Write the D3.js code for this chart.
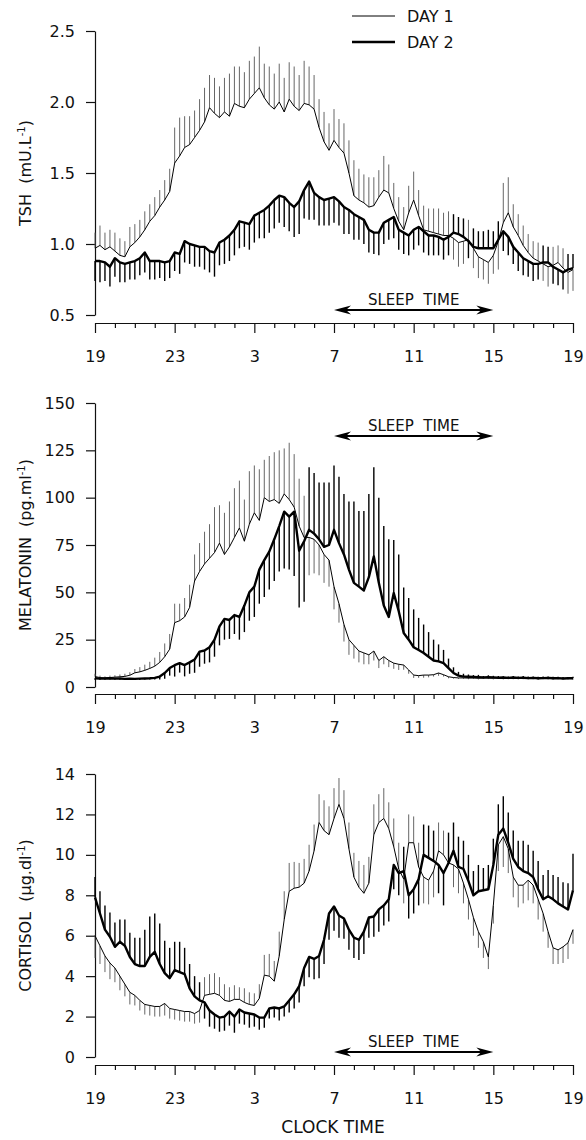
<!DOCTYPE html>
<html lang="en">
<head>
<meta charset="utf-8">
<title>TSH, melatonin and cortisol over two days</title>
<script src="https://cdn.jsdelivr.net/npm/d3@7"></script>
<style>
  body { margin: 0; background: #fff; }
  svg text { font-family: "DejaVu Sans", sans-serif; fill: #111; }
</style>
</head>
<body>
<script>

// samples every 15 min, from 19:00 to 19:00 next day (97 points)
var startHour = 19;
var stepHours = 0.25;
var hourTicks = d3.range(19, 44);
var majorTickLabels = ["19", "23", "3", "7", "11", "15", "19"];

// TSH (mU.L-1)
var tshDay1 = [
  0.97, 0.99, 0.96, 0.98, 0.95, 0.92, 0.91, 0.98,
  1.01, 1.05, 1.10, 1.16, 1.20, 1.26, 1.31, 1.37,
  1.57, 1.62, 1.68, 1.70, 1.75, 1.80, 1.86, 1.96,
  1.92, 1.89, 1.93, 1.90, 1.99, 1.97, 1.96, 2.02,
  2.06, 2.10, 2.03, 1.98, 1.95, 2.00, 1.93, 2.02,
  1.97, 1.94, 1.99, 1.98, 1.95, 1.82, 1.72, 1.66,
  1.73, 1.68, 1.64, 1.50, 1.34, 1.31, 1.29, 1.26,
  1.27, 1.33, 1.38, 1.36, 1.25, 1.16, 1.10, 1.22,
  1.31, 1.20, 1.10, 1.09, 1.08, 1.07, 1.06, 1.06,
  1.04, 1.01, 1.02, 1.03, 0.97, 0.91, 0.89, 0.87,
  0.92, 1.02, 1.15, 1.22, 1.12, 1.06, 0.99, 0.94,
  0.90, 0.88, 0.86, 0.84, 0.85, 0.87, 0.83, 0.80,
  0.82
];
var tshDay1Sem = [
  0.11, 0.14, 0.12, 0.12, 0.13, 0.12, 0.11, 0.14,
  0.13, 0.12, 0.13, 0.12, 0.13, 0.12, 0.14, 0.16,
  0.25, 0.27, 0.22, 0.20, 0.19, 0.22, 0.24, 0.23,
  0.25, 0.22, 0.24, 0.30, 0.26, 0.28, 0.25, 0.27,
  0.26, 0.29, 0.24, 0.27, 0.25, 0.27, 0.24, 0.26,
  0.28, 0.25, 0.30, 0.27, 0.24, 0.20, 0.21, 0.19,
  0.22, 0.20, 0.21, 0.23, 0.25, 0.22, 0.20, 0.21,
  0.20, 0.19, 0.24, 0.20, 0.18, 0.17, 0.16, 0.19,
  0.20, 0.18, 0.17, 0.16, 0.17, 0.18, 0.16, 0.17,
  0.15, 0.17, 0.16, 0.14, 0.14, 0.15, 0.14, 0.15,
  0.13, 0.20, 0.28, 0.25, 0.16, 0.15, 0.14, 0.13,
  0.12, 0.13, 0.12, 0.14, 0.13, 0.12, 0.14, 0.15,
  0.15
];
var tshDay2 = [
  0.88, 0.88, 0.87, 0.84, 0.90, 0.87, 0.86, 0.87,
  0.88, 0.90, 0.94, 0.88, 0.88, 0.88, 0.87, 0.88,
  0.94, 0.93, 1.02, 1.00, 0.99, 0.98, 0.98, 0.95,
  0.94, 1.01, 1.03, 1.06, 1.10, 1.16, 1.15, 1.14,
  1.20, 1.22, 1.24, 1.27, 1.31, 1.34, 1.33, 1.29,
  1.26, 1.30, 1.38, 1.44, 1.36, 1.33, 1.31, 1.32,
  1.33, 1.30, 1.26, 1.24, 1.21, 1.19, 1.17, 1.10,
  1.08, 1.08, 1.15, 1.17, 1.19, 1.10, 1.08, 1.06,
  1.10, 1.12, 1.09, 1.06, 1.06, 1.05, 1.03, 1.05,
  1.08, 1.07, 1.05, 1.02, 0.98, 0.97, 0.97, 0.97,
  0.97, 1.03, 1.09, 1.05, 0.98, 0.94, 0.90, 0.88,
  0.86, 0.86, 0.87, 0.87, 0.84, 0.82, 0.80, 0.82,
  0.83
];
var tshDay2Sem = [
  0.14, 0.15, 0.13, 0.14, 0.13, 0.14, 0.13, 0.12,
  0.13, 0.12, 0.14, 0.13, 0.13, 0.12, 0.13, 0.12,
  0.13, 0.14, 0.15, 0.14, 0.15, 0.14, 0.16, 0.15,
  0.17, 0.16, 0.17, 0.18, 0.18, 0.19, 0.17, 0.18,
  0.19, 0.18, 0.20, 0.19, 0.20, 0.19, 0.21, 0.20,
  0.21, 0.23, 0.20, 0.27, 0.19, 0.20, 0.18, 0.19,
  0.18, 0.17, 0.19, 0.17, 0.18, 0.16, 0.17, 0.16,
  0.15, 0.16, 0.15, 0.14, 0.15, 0.14, 0.15, 0.14,
  0.14, 0.13, 0.15, 0.14, 0.14, 0.13, 0.14, 0.13,
  0.13, 0.12, 0.13, 0.12, 0.13, 0.12, 0.12, 0.13,
  0.12, 0.13, 0.14, 0.13, 0.12, 0.13, 0.12, 0.11,
  0.12, 0.11, 0.12, 0.11, 0.12, 0.11, 0.12, 0.11,
  0.10
];

// Melatonin (pg.ml-1)
var melDay1 = [
  5.5, 5.0, 4.8, 5.0, 5.2, 5.4, 5.6, 6.2,
  7.5, 8.0, 8.8, 9.8, 11, 13, 16, 20,
  34, 35, 37, 42, 56, 61, 65, 68,
  71, 76, 70, 74, 79, 84, 77, 86,
  92, 88, 100, 98, 99, 97, 102, 99,
  95, 85, 79, 79, 78, 75, 70, 67,
  53, 44, 33, 25, 22, 19, 18, 17,
  19, 14, 16, 14, 12.6, 12, 11.6, 9,
  6.3, 6.0, 6.3, 6.3, 6.5, 7.4, 6.5, 5.4,
  5.0, 4.8, 4.8, 4.7, 4.8, 4.6, 4.8, 4.7,
  4.6, 4.8, 4.5, 4.7, 4.6, 4.5, 4.7, 4.5,
  4.6, 4.4, 4.6, 4.5, 4.4, 4.6, 4.4, 4.5,
  4.4
];
var melDay1Sem = [
  1.5, 1.0, 0.8, 1.0, 1.0, 1.2, 1.4, 1.6,
  2.0, 2.5, 3.0, 3.5, 4.5, 5.5, 7.0, 8.0,
  10, 9, 10, 12, 14, 15, 17, 18,
  24, 20, 22, 24, 26, 25, 22, 28,
  25, 27, 20, 24, 25, 28, 24, 30,
  28, 25, 22, 20, 18, 16, 15, 14,
  12, 10, 9, 8, 7, 6, 6, 5,
  5, 4, 4, 3.5, 3, 3, 2.5, 2,
  1.5, 1.2, 1.4, 1.2, 1.0, 1.5, 1.0, 0.8,
  0.6, 0.5, 0.5, 0.6, 0.5, 0.6, 0.5, 0.5,
  0.6, 0.5, 0.5, 0.6, 0.5, 0.5, 0.6, 0.5,
  0.5, 0.6, 0.5, 0.5, 0.6, 0.5, 0.5, 0.6,
  0.5
];
var melDay2 = [
  4.6, 4.4, 4.5, 4.6, 4.4, 4.5, 4.3, 4.4,
  4.3, 4.4, 4.5, 4.6, 4.8, 5.5, 7.4, 10,
  11.5, 12.6, 11.6, 13, 14.5, 18.7, 19.3, 21,
  25, 32, 36, 35.4, 38, 37, 43, 50,
  53, 62, 67, 71.5, 78, 85, 92.6, 90,
  92.6, 72, 77, 83, 81, 78, 74, 75,
  83, 76, 70, 62, 55, 53, 51, 58,
  69, 55, 43, 37, 49.6, 40, 28.5, 25,
  21, 19.5, 18, 16, 14, 13.5, 12.6, 10,
  7.4, 6.0, 5.5, 5.4, 5.3, 5.2, 5.0, 5.2,
  5.1, 4.9, 5.0, 4.8, 5.0, 4.8, 4.9, 4.7,
  4.8, 4.6, 4.7, 4.8, 4.6, 4.7, 4.5, 4.6,
  4.6
];
var melDay2Sem = [
  0.8, 0.6, 0.7, 0.6, 0.6, 0.7, 0.6, 0.6,
  0.6, 0.7, 0.6, 0.7, 0.8, 1.5, 3, 4,
  6, 5, 6, 6, 7, 8, 7, 8,
  9, 10, 11, 10, 10, 12, 14, 15,
  16, 18, 19.5, 20, 22, 24, 30, 28,
  34, 30, 32, 33, 32, 30, 34, 33,
  34, 35, 32, 36, 43, 40, 42, 44,
  47, 45, 42, 41, 28, 30, 24, 22,
  20, 17, 15, 13, 11, 9, 7, 5,
  3, 2, 1.5, 1.2, 1.0, 1.2, 0.8, 1.0,
  0.8, 0.9, 0.7, 0.8, 0.8, 0.7, 0.9, 0.8,
  0.7, 0.8, 0.8, 0.7, 0.8, 0.7, 0.8, 0.7,
  0.8
];

// Cortisol (ug.dl-1)
var cortDay1 = [
  6.0, 5.5, 5.0, 4.65, 4.4, 4.0, 3.6, 3.2,
  3.05, 2.8, 2.6, 2.55, 2.5, 2.5, 2.65, 2.4,
  2.35, 2.3, 2.25, 2.25, 2.15, 2.3, 3.05, 3.1,
  3.15, 3.05, 2.8, 2.75, 2.85, 2.85, 2.7, 2.6,
  2.55, 2.9, 4.05, 4.0, 3.75, 5.0, 6.8, 8.2,
  8.35, 8.4, 8.6, 9.2, 10.2, 11.6, 11.2, 11.0,
  11.8, 12.5, 11.8, 10.3, 8.9, 8.4, 8.1, 8.6,
  11.0, 11.6, 11.8, 11.3, 10.4, 9.3, 8.8, 10.6,
  10.6, 9.4, 8.9, 8.75, 9.2, 10.2, 10.0, 9.6,
  9.5, 9.3, 8.6, 7.8, 6.9, 6.2, 5.7, 4.95,
  7.5, 10.5, 10.9, 10.3, 8.9, 8.5, 8.5, 8.75,
  8.5, 7.8, 7.1, 6.2, 5.4, 5.3, 5.45, 5.65,
  6.3
];
var cortDay1Sem = [
  1.1, 0.9, 0.8, 0.8, 0.7, 0.7, 0.6, 0.6,
  0.5, 0.5, 0.5, 0.5, 0.5, 0.5, 0.6, 0.5,
  0.5, 0.5, 0.5, 0.5, 0.5, 0.6, 0.9, 1.0,
  1.0, 0.9, 0.8, 0.7, 0.7, 0.6, 0.7, 0.6,
  0.6, 0.7, 1.0, 1.1, 1.0, 1.2, 1.4, 1.4,
  1.3, 1.2, 1.2, 1.3, 1.3, 1.4, 1.5, 1.4,
  1.5, 1.3, 1.4, 1.3, 1.2, 1.3, 1.4, 1.3,
  1.5, 1.4, 1.5, 1.3, 1.4, 1.3, 1.2, 1.4,
  1.3, 1.2, 1.3, 1.2, 1.3, 1.4, 1.2, 1.3,
  1.1, 1.2, 1.0, 1.0, 0.9, 0.8, 0.8, 0.6,
  0.9, 1.3, 1.5, 1.2, 1.0, 1.1, 0.9, 1.0,
  0.9, 1.0, 0.9, 0.8, 0.8, 0.7, 0.8, 0.8,
  0.7
];
var cortDay2 = [
  7.9, 7.1, 6.3, 5.95, 5.45, 5.7, 5.5, 4.95,
  4.6, 4.5, 4.5, 4.95, 5.2, 4.6, 4.15, 3.9,
  4.3, 4.2, 4.1, 3.4, 3.0, 2.8, 2.7, 2.3,
  2.1, 1.95, 2.0, 2.25, 2.0, 2.35, 2.2, 2.15,
  2.1, 1.95, 1.95, 2.4, 2.45, 2.4, 2.5, 2.8,
  3.1, 3.5, 4.4, 4.95, 4.85, 5.0, 5.8, 7.1,
  7.45, 7.0, 6.85, 6.3, 5.9, 5.8, 6.2, 6.9,
  6.95, 7.3, 7.5, 7.8, 9.5, 9.1, 9.2, 8.0,
  8.3, 8.8, 10.0, 9.85, 9.7, 9.5, 9.1, 9.6,
  10.2, 9.4, 9.3, 8.7, 8.0, 8.2, 8.25, 8.3,
  9.5, 11.0, 11.3, 10.6, 9.8, 9.4, 9.2, 9.1,
  8.9, 8.3, 7.8, 7.95, 7.8, 7.6, 7.45, 7.3,
  8.25
];
var cortDay2Sem = [
  1.0, 1.1, 1.2, 1.2, 1.2, 1.1, 1.3, 1.2,
  1.3, 1.4, 1.8, 2.0, 1.9, 2.0, 1.6, 1.5,
  1.4, 1.5, 1.3, 1.2, 1.0, 0.9, 0.8, 0.8,
  0.7, 0.7, 0.7, 0.7, 0.8, 0.7, 0.6, 0.7,
  0.6, 0.6, 0.5, 0.5, 0.5, 0.6, 0.5, 0.6,
  0.7, 0.8, 0.9, 1.0, 1.0, 1.1, 1.2, 1.3,
  1.2, 1.1, 1.0, 1.0, 1.0, 1.0, 1.1, 1.0,
  1.0, 1.1, 1.0, 1.1, 1.2, 1.1, 1.2, 1.15,
  1.2, 1.3, 1.5, 1.6, 1.5, 1.4, 1.6, 1.5,
  1.4, 1.5, 1.4, 1.3, 1.2, 1.3, 1.1, 1.2,
  1.3, 1.5, 1.6, 1.5, 1.4, 1.3, 1.5, 1.4,
  1.3, 1.4, 1.2, 1.3, 1.2, 1.3, 1.2, 1.3,
  1.8
];

var w = 586;
var h = 1140;

var svg = d3.select("body")
            .append("svg")
            .attr("width", w)
            .attr("height", h);

var x = d3.scaleLinear()
          .domain([19, 43])
          .range([95, 573]);

var panels = [
  { label: "TSH", unit: "mU.L", domain: [0.5, 2.5], top: 31, bottom: 315, axisY: 323,
    ticks: [0.5, 1.0, 1.5, 2.0, 2.5], fmt: d3.format(".1f"), sleepY: 310,
    day1: tshDay1, sem1: tshDay1Sem, day2: tshDay2, sem2: tshDay2Sem },
  { label: "MELATONIN", unit: "pg.ml", domain: [0, 150], top: 403, bottom: 687, axisY: 694,
    ticks: [0, 25, 50, 75, 100, 125, 150], fmt: d3.format("d"), sleepY: 436,
    day1: melDay1, sem1: melDay1Sem, day2: melDay2, sem2: melDay2Sem },
  { label: "CORTISOL", unit: "\u00b5g.dl", domain: [0, 14], top: 774, bottom: 1057, axisY: 1065,
    ticks: [0, 2, 4, 6, 8, 10, 12, 14], fmt: d3.format("d"), sleepY: 1052,
    day1: cortDay1, sem1: cortDay1Sem, day2: cortDay2, sem2: cortDay2Sem }
];

function timeOf(i) {
  return startHour + i * stepHours;
}

panels.forEach(function(p) {
  var y = d3.scaleLinear()
            .domain(p.domain)
            .range([p.bottom, p.top]);

  //Y axis
  var yAxis = svg.append("g")
     .attr("transform", "translate(95,0)")
     .call(d3.axisLeft(y).tickValues(p.ticks).tickSize(9).tickPadding(11)
             .tickSizeOuter(0).tickFormat(p.fmt));
  yAxis.selectAll("text").attr("font-size", "16px");

  //X axis, hourly ticks, labels every 4 h
  var xAxis = svg.append("g")
     .attr("transform", "translate(0," + p.axisY + ")")
     .call(d3.axisBottom(x).tickValues(hourTicks).tickSize(5).tickSizeOuter(0)
             .tickFormat(function(d) {
               return (d - 19) % 4 === 0 ? majorTickLabels[(d - 19) / 4] : "";
             }));
  xAxis.selectAll(".tick line")
       .attr("y2", function(d) { return (d - 19) % 4 === 0 ? 10 : 5; });
  xAxis.selectAll("text")
       .attr("y", 28)
       .attr("font-size", "16px");

  svg.selectAll(".domain, .tick line")
     .attr("stroke", "#111")
     .attr("stroke-width", 1.2);

  //Y label with superscript
  var lab = svg.append("text")
     .attr("transform", "translate(31," + ((p.top + p.bottom) / 2) + ") rotate(-90)")
     .attr("text-anchor", "middle")
     .attr("font-size", "16px")
     .style("white-space", "pre");
  lab.append("tspan").text(p.label + "  (" + p.unit);
  lab.append("tspan").attr("dy", -6).attr("font-size", "10px").text("-1");
  lab.append("tspan").attr("dy", 6).text(")");

  //Error bars: the upper curve points up, the lower one down
  var series = [
    { v: p.day1, sem: p.sem1, other: p.day2, stroke: "#555", bw: 0.9, lw: 1 },
    { v: p.day2, sem: p.sem2, other: p.day1, stroke: "#000", bw: 1.4, lw: 2.4 }
  ];

  series.forEach(function(s) {
    svg.append("g")
       .selectAll("line")
       .data(s.v)
       .enter()
       .append("line")
       .attr("x1", function(d, i) { return x(timeOf(i)); })
       .attr("x2", function(d, i) { return x(timeOf(i)); })
       .attr("y1", function(d) { return y(d); })
       .attr("y2", function(d, i) {
         var up = d >= s.other[i];
         return y(up ? d + s.sem[i] : d - s.sem[i]);
       })
       .attr("stroke", s.stroke)
       .attr("stroke-width", s.bw);
  });

  var line = d3.line()
               .x(function(d, i) { return x(timeOf(i)); })
               .y(function(d) { return y(d); });

  series.forEach(function(s) {
    svg.append("path")
       .datum(s.v)
       .attr("d", line)
       .attr("fill", "none")
       .attr("stroke", "#000")
       .attr("stroke-width", s.lw)
       .attr("stroke-linejoin", "round");
  });

  //Sleep time arrow 7 -> 15
  var x0 = x(31), x1 = x(39), ay = p.sleepY;
  svg.append("line")
     .attr("x1", x0 + 4).attr("x2", x1 - 4)
     .attr("y1", ay).attr("y2", ay)
     .attr("stroke", "#000").attr("stroke-width", 2);
  svg.append("path")
     .attr("d", "M" + x0 + "," + ay + "L" + (x0 + 17) + "," + (ay - 4.5) + "L" + (x0 + 12) + "," + ay +
                "L" + (x0 + 17) + "," + (ay + 4.5) + "Z")
     .attr("fill", "#000");
  svg.append("path")
     .attr("d", "M" + x1 + "," + ay + "L" + (x1 - 17) + "," + (ay - 4.5) + "L" + (x1 - 12) + "," + ay +
                "L" + (x1 - 17) + "," + (ay + 4.5) + "Z")
     .attr("fill", "#000");
  svg.append("text")
     .attr("x", (x0 + x1) / 2)
     .attr("y", ay - 5)
     .attr("text-anchor", "middle")
     .attr("font-size", "15px")
     .style("white-space", "pre")
     .text("SLEEP  TIME");
});

//Legend
var legend = [
  { name: "DAY 1", w: 1, y: 16 },
  { name: "DAY 2", w: 2.4, y: 42 }
];
legend.forEach(function(l) {
  svg.append("line")
     .attr("x1", 352).attr("x2", 395)
     .attr("y1", l.y).attr("y2", l.y)
     .attr("stroke", "#000").attr("stroke-width", l.w);
  svg.append("text")
     .attr("x", 407).attr("y", l.y + 6)
     .attr("font-size", "16px")
     .text(l.name);
});

//X title
svg.append("text")
   .attr("x", 333)
   .attr("y", 1133)
   .attr("text-anchor", "middle")
   .attr("font-size", "17px")
   .text("CLOCK TIME");

</script>
</body>
</html>
